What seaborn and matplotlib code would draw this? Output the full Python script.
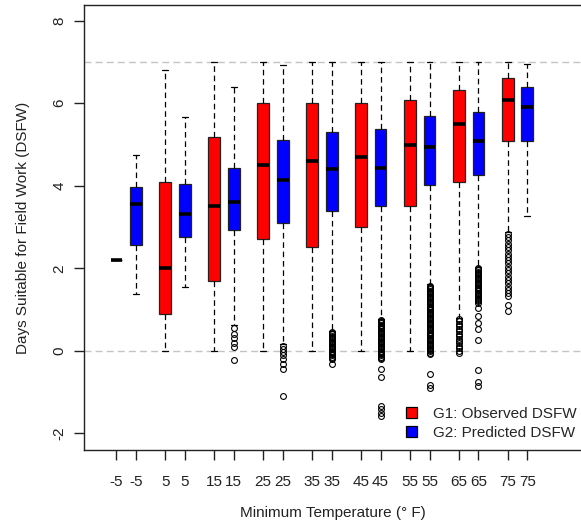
import numpy as np
import pandas as pd
import matplotlib
matplotlib.use("Agg")
import matplotlib.pyplot as plt
from matplotlib.patches import Patch
import seaborn as sns

# ---------------- data ----------------
temps = ["-5", "5", "15", "25", "35", "45", "55", "65", "75"]

# G1: Observed DSFW (red)
obs_whislo = [2.20, 0.00, 0.00, 0.00, 0.00, 0.00, 0.00, 0.80, 2.88]
obs_q1     = [2.20, 0.90, 1.70, 2.71, 2.51, 3.00, 3.51, 4.09, 5.09]
obs_med    = [2.20, 2.01, 3.50, 4.51, 4.60, 4.69, 5.00, 5.50, 6.09]
obs_q3     = [2.20, 4.09, 5.19, 6.00, 6.00, 6.00, 6.09, 6.32, 6.61]
obs_whishi = [2.20, 6.80, 7.00, 7.00, 7.00, 7.00, 7.00, 7.00, 7.00]
obs_fliers = [
    [], [], [], [], [], [], [],
    [0.78, 0.72, 0.66, 0.60, 0.54, 0.48, 0.42, 0.36, 0.30, 0.24, 0.18, 0.12,
     0.06, 0.00, -0.04],
    [2.84, 2.76, 2.68, 2.60, 2.52, 2.44, 2.36, 2.28, 2.20, 2.12, 2.04, 1.96,
     1.88, 1.80, 1.72, 1.64, 1.56, 1.48, 1.40, 1.32, 1.12, 0.96],
]

# G2: Predicted DSFW (blue)
pred_whislo = [1.37, 1.55, 0.64, 0.17, 0.48, 0.78, 1.61, 2.04, 3.26]
pred_q1     = [2.57, 2.75, 2.92, 3.10, 3.38, 3.51, 4.03, 4.25, 5.09]
pred_med    = [3.57, 3.32, 3.60, 4.13, 4.41, 4.44, 4.95, 5.09, 5.91]
pred_q3     = [3.97, 4.04, 4.44, 5.10, 5.31, 5.37, 5.69, 5.78, 6.40]
pred_whishi = [4.75, 5.67, 6.40, 6.92, 7.00, 7.00, 7.00, 7.00, 6.96]
pred_fliers = [
    [],
    [],
    [0.56, 0.42, 0.31, 0.19, 0.09, -0.21],
    [0.12, 0.05, -0.03, -0.09, -0.19, -0.32, -0.44, -1.09],
    [0.46, 0.43, 0.40, 0.37, 0.34, 0.31, 0.28, 0.25, 0.22, 0.19, 0.16, 0.13,
     0.10, 0.07, 0.04, 0.01, -0.02, -0.05, -0.08, -0.11, -0.14, -0.17, -0.20,
     -0.31],
    [0.76, 0.73, 0.70, 0.67, 0.64, 0.61, 0.58, 0.55, 0.52, 0.49, 0.46, 0.43,
     0.40, 0.37, 0.34, 0.31, 0.28, 0.25, 0.22, 0.19, 0.16, 0.13, 0.10, 0.07,
     0.04, 0.01, -0.02, -0.05, -0.08, -0.11, -0.14, -0.17, -0.20, -0.43,
     -0.63, -1.33, -1.41, -1.50, -1.58],
    [1.58, 1.55, 1.52, 1.49, 1.46, 1.43, 1.40, 1.37, 1.34, 1.31, 1.28, 1.25,
     1.22, 1.19, 1.16, 1.13, 1.10, 1.07, 1.04, 1.01, 0.98, 0.95, 0.92, 0.89,
     0.86, 0.83, 0.80, 0.77, 0.74, 0.71, 0.68, 0.65, 0.62, 0.59, 0.56, 0.53,
     0.50, 0.47, 0.44, 0.41, 0.38, 0.35, 0.32, 0.29, 0.26, 0.23, 0.20, 0.17,
     0.14, 0.11, 0.08, 0.05, 0.02, -0.01, -0.04, -0.07, -0.57, -0.82, -0.90],
    [2.01, 1.98, 1.95, 1.92, 1.89, 1.86, 1.83, 1.80, 1.77, 1.74, 1.71, 1.68,
     1.65, 1.62, 1.59, 1.56, 1.53, 1.50, 1.47, 1.44, 1.41, 1.38, 1.35, 1.32,
     1.29, 1.26, 1.23, 1.20, 1.17, 1.04, 0.84, 0.68, 0.52, 0.26, -0.45,
     -0.76, -0.84],
    [],
]

legend_labels = ["G1: Observed DSFW", "G2: Predicted DSFW"]
group_colors = ["#ff0000", "#0000ff"]
yticks = [-2, 0, 2, 4, 6, 8]
ref_lines = [0, 7]

# ---------------- plotting ----------------
sns.set_theme(style="ticks")
plt.rcParams["font.family"] = ["Liberation Sans", "DejaVu Sans"]

FS = 11
fig = plt.figure(figsize=(5.81, 5.29), dpi=100)
ax = fig.add_axes([84 / 581, 1 - 450 / 529, 1 - 84 / 581 + 0.002, 445 / 529])

for yv in ref_lines:
    ax.axhline(yv, color="#c4c4c4", lw=1.0, ls=(0, (5, 3)), zorder=0)

def make_stats(whislo, q1, med, q3, whishi, fliers):
    return [dict(whislo=a, q1=b, med=c, q3=d, whishi=e, fliers=f)
            for a, b, c, d, e, f in zip(whislo, q1, med, q3, whishi, fliers)]

groups = [
    make_stats(obs_whislo, obs_q1, obs_med, obs_q3, obs_whishi, obs_fliers),
    make_stats(pred_whislo, pred_q1, pred_med, pred_q3, pred_whishi, pred_fliers),
]
offsets = [0.0, 0.4]
base = np.arange(1, len(temps) + 1)

tick_pos, tick_lab = [], []
for stats, off, col in zip(groups, offsets, group_colors):
    pos = base + off
    ax.bxp(stats, positions=pos, widths=0.24, patch_artist=True,
           showfliers=True, manage_ticks=False,
           boxprops=dict(facecolor=col, edgecolor="#222222", lw=0.9),
           medianprops=dict(color="black", lw=2.6, solid_capstyle="butt"),
           whiskerprops=dict(color="black", lw=0.9, ls=(0, (4.5, 3))),
           capprops=dict(color="black", lw=0.9),
           capwidths=0.12,
           flierprops=dict(marker="o", markersize=4.2, markerfacecolor="none",
                           markeredgecolor="black", markeredgewidth=0.8))
    tick_pos.extend(pos)
    tick_lab.extend(temps)

order = np.argsort(tick_pos)
ax.set_xticks(np.array(tick_pos)[order])
ax.set_xticklabels(np.array(tick_lab)[order])
ax.set_xlim(0.338, 10.52)
ax.set_ylim(-2.40, 8.38)
ax.set_yticks(yticks)
ax.set_yticklabels([str(v) for v in yticks], rotation=90, va="center")

for s in ["left", "bottom", "top"]:
    ax.spines[s].set_color("#222222")
    ax.spines[s].set_linewidth(1.0)
ax.spines["right"].set_visible(False)
ax.tick_params(axis="both", length=7, width=1.0, color="#222222",
               labelsize=FS, labelcolor="#222222")
ax.tick_params(axis="x", pad=11)
ax.tick_params(axis="y", pad=5.5)

ax.set_xlabel("Minimum Temperature (° F)", fontsize=FS, color="#222222",
              labelpad=12)
ax.set_ylabel("Days Suitable for Field Work (DSFW)", fontsize=FS,
              color="#222222", labelpad=16)

handles = [Patch(facecolor=c, edgecolor="black", lw=0.9) for c in group_colors]
ax.legend(handles, legend_labels, loc="upper left",
          bbox_to_anchor=(406 / 581, 1 - 407 / 529),
          bbox_transform=fig.transFigure, frameon=False, fontsize=FS,
          borderpad=0, handlelength=0.75, handleheight=0.75,
          handletextpad=1.0, labelspacing=0.3, borderaxespad=0)

fig.savefig("out.png", dpi=100)
